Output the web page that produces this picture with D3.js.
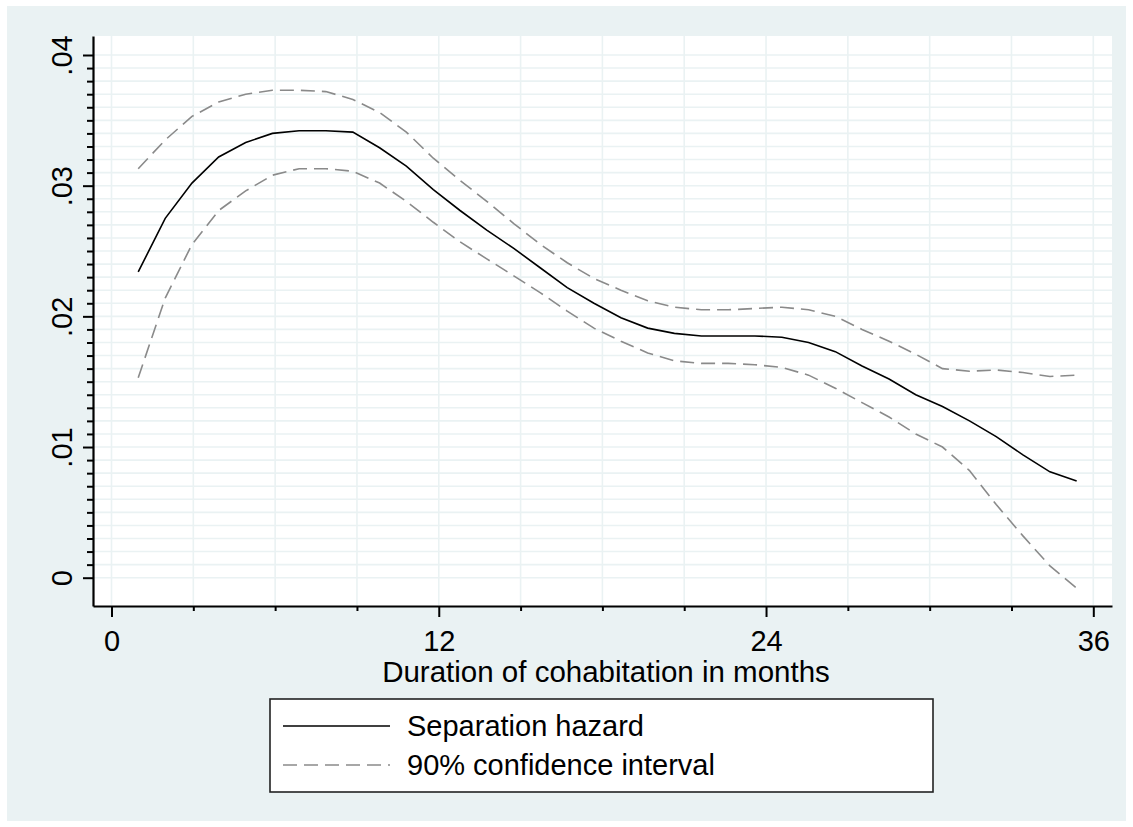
<!DOCTYPE html>
<html>
<head>
<meta charset="utf-8">
<script src="https://cdn.jsdelivr.net/npm/d3@7/dist/d3.min.js"></script>
<style>
  html, body { margin: 0; padding: 0; background: #ffffff; }
  svg text { font-family: "Liberation Sans", Arial, Helvetica, sans-serif; fill: #000; }
</style>
</head>
<body>
<svg id="chart" width="1133" height="827"></svg>
<script>
// ---------- data ----------
const months = [0.98, 1.97, 2.95, 3.93, 4.92, 5.90, 6.88, 7.86, 8.85, 9.83,
  10.81, 11.80, 12.78, 13.76, 14.75, 15.73, 16.71, 17.69, 18.68, 19.66,
  20.64, 21.63, 22.61, 23.59, 24.58, 25.56, 26.54, 27.52, 28.51, 29.49,
  30.47, 31.46, 32.44, 33.42, 34.41, 35.39];
const hazard = [0.0234, 0.0275, 0.0302, 0.0322, 0.0333, 0.0340, 0.0342, 0.0342, 0.0341, 0.0329,
  0.0315, 0.0297, 0.0281, 0.0266, 0.0252, 0.0237, 0.0222, 0.0210, 0.0199, 0.0191,
  0.0187, 0.0185, 0.0185, 0.0185, 0.0184, 0.0180, 0.0173, 0.0162, 0.0152, 0.0140,
  0.0131, 0.0120, 0.0108, 0.0094, 0.0081, 0.0074];
const ciUpper = [0.0313, 0.0335, 0.0353, 0.0364, 0.0370, 0.0373, 0.0373, 0.0372, 0.0366, 0.0356,
  0.0341, 0.0321, 0.0304, 0.0288, 0.0271, 0.0255, 0.0241, 0.0229, 0.0220, 0.0212,
  0.0207, 0.0205, 0.0205, 0.0206, 0.0207, 0.0205, 0.0200, 0.0190, 0.0181, 0.0171,
  0.0160, 0.0158, 0.0159, 0.0157, 0.0154, 0.0155];
const ciLower = [0.0153, 0.0214, 0.0255, 0.0281, 0.0296, 0.0308, 0.0313, 0.0313, 0.0311, 0.0302,
  0.0288, 0.0272, 0.0257, 0.0244, 0.0231, 0.0218, 0.0204, 0.0191, 0.0181, 0.0172,
  0.0166, 0.0164, 0.0164, 0.0163, 0.0161, 0.0155, 0.0145, 0.0134, 0.0123, 0.0110,
  0.0100, 0.0082, 0.0056, 0.0032, 0.0009, -0.0008];

const xMajorTicks = [0, 12, 24, 36];
const xMinorTicks = [3, 6, 9, 15, 18, 21, 27, 30, 33];
const yMajorTicks = [0, 0.01, 0.02, 0.03, 0.04];
const yTickLabels = ["0", ".01", ".02", ".03", ".04"];
const legendLabels = ["Separation hazard", "90% confidence interval"];
const xTitle = "Duration of cohabitation in months";

// ---------- layout ----------
const W = 1133, H = 827;
const plot = { left: 93, right: 1112, top: 36, bottom: 606 };
const bg = "#eaf2f3";
const grid = "#eaf2f3";
const fontSize = 29;

const svg = d3.select("#chart");

// outer region
svg.append("rect").attr("x", 0).attr("y", 0).attr("width", W).attr("height", H).attr("fill", "#ffffff");
svg.append("rect").attr("x", 7).attr("y", 6).attr("width", W - 14).attr("height", H - 12).attr("fill", bg);
svg.append("rect").attr("x", plot.left).attr("y", plot.top)
  .attr("width", plot.right - plot.left).attr("height", plot.bottom - plot.top).attr("fill", "#ffffff");

// scales: 0 -> 111.5px, 36 -> 1093.3px ; 0 -> 577.7px, .04 -> 55px
const xPx0 = 111.5, xPx36 = 1093.3;
const xPerUnit = (xPx36 - xPx0) / 36;
const x = d3.scaleLinear()
  .domain([(plot.left - xPx0) / xPerUnit, (plot.right - xPx0) / xPerUnit])
  .range([plot.left, plot.right]);
const yPx0 = 577.7, yPx04 = 55;
const yPerUnit = (yPx0 - yPx04) / 0.04;
const y = d3.scaleLinear()
  .domain([(yPx0 - plot.bottom) / yPerUnit, (yPx0 - plot.top) / yPerUnit])
  .range([plot.bottom, plot.top]);

// grid
const yGridVals = d3.range(0, 41).map(i => i / 1000);
const xGridVals = d3.range(0, 13).map(i => i * 3);
const gGrid = svg.append("g");
gGrid.selectAll("line.h").data(yGridVals).join("line")
  .attr("x1", plot.left + 1).attr("x2", plot.right)
  .attr("y1", d => y(d)).attr("y2", d => y(d))
  .attr("stroke", grid).attr("stroke-width", 1.6);
gGrid.selectAll("line.v").data(xGridVals).join("line")
  .attr("y1", plot.top).attr("y2", plot.bottom - 1)
  .attr("x1", d => x(d)).attr("x2", d => x(d))
  .attr("stroke", grid).attr("stroke-width", 1.6);

// lines
const line = (vals) => d3.line().x((d, i) => x(months[i])).y(d => y(d))(vals);
svg.append("path").attr("d", line(ciUpper)).attr("fill", "none")
  .attr("stroke", "#8a8a8a").attr("stroke-width", 1.6).attr("stroke-dasharray", "14,7");
svg.append("path").attr("d", line(ciLower)).attr("fill", "none")
  .attr("stroke", "#8a8a8a").attr("stroke-width", 1.6).attr("stroke-dasharray", "14,7");
svg.append("path").attr("d", line(hazard)).attr("fill", "none")
  .attr("stroke", "#000000").attr("stroke-width", 1.6);

// axes
const yAxisMajor = d3.axisLeft(y).tickValues(yMajorTicks).tickSize(10).tickSizeOuter(0)
  .tickFormat((d, i) => yTickLabels[i]);
const gy = svg.append("g").attr("transform", `translate(${plot.left},0)`).call(yAxisMajor);
gy.select(".domain").attr("stroke", "#000").attr("stroke-width", 2.2);
gy.selectAll(".tick line").attr("stroke", "#000").attr("stroke-width", 2);
gy.selectAll(".tick text")
  .attr("font-size", fontSize)
  .attr("transform", "rotate(-90)")
  .attr("x", 0).attr("y", -21).attr("dy", 0)
  .attr("text-anchor", "middle");

const yMinor = yGridVals.filter(v => Math.round(v * 1000) % 10 !== 0);
const gyMinor = svg.append("g").attr("transform", `translate(${plot.left},0)`)
  .call(d3.axisLeft(y).tickValues(yMinor).tickSize(6).tickSizeOuter(0).tickFormat(""));
gyMinor.select(".domain").remove();
gyMinor.selectAll(".tick line").attr("stroke", "#000").attr("stroke-width", 2);

const gx = svg.append("g").attr("transform", `translate(0,${plot.bottom})`)
  .call(d3.axisBottom(x).tickValues(xMajorTicks).tickSize(11).tickSizeOuter(0).tickFormat(d3.format("d")));
gx.select(".domain").attr("stroke", "#000").attr("stroke-width", 2.2);
gx.selectAll(".tick line").attr("stroke", "#000").attr("stroke-width", 2);
gx.selectAll(".tick text").attr("font-size", fontSize).attr("y", 45).attr("dy", 0);

const gxMinor = svg.append("g").attr("transform", `translate(0,${plot.bottom})`)
  .call(d3.axisBottom(x).tickValues(xMinorTicks).tickSize(5).tickSizeOuter(0).tickFormat(""));
gxMinor.select(".domain").remove();
gxMinor.selectAll(".tick line").attr("stroke", "#000").attr("stroke-width", 2);

// axis title
svg.append("text").attr("x", 606).attr("y", 682)
  .attr("text-anchor", "middle").attr("font-size", 29.5).text(xTitle);

// legend
const lg = svg.append("g");
lg.append("rect").attr("x", 270).attr("y", 699).attr("width", 663).attr("height", 93)
  .attr("fill", "#ffffff").attr("stroke", "#222").attr("stroke-width", 1.6);
const legendY = [726, 765];
lg.append("line").attr("x1", 283).attr("x2", 390).attr("y1", legendY[0]).attr("y2", legendY[0])
  .attr("stroke", "#000").attr("stroke-width", 1.6);
lg.append("line").attr("x1", 283).attr("x2", 390).attr("y1", legendY[1]).attr("y2", legendY[1])
  .attr("stroke", "#8a8a8a").attr("stroke-width", 1.6).attr("stroke-dasharray", "14,7");
lg.selectAll("text").data(legendLabels).join("text")
  .attr("x", 407).attr("y", (d, i) => legendY[i] + 10)
  .attr("font-size", fontSize).text(d => d);
</script>
</body>
</html>
